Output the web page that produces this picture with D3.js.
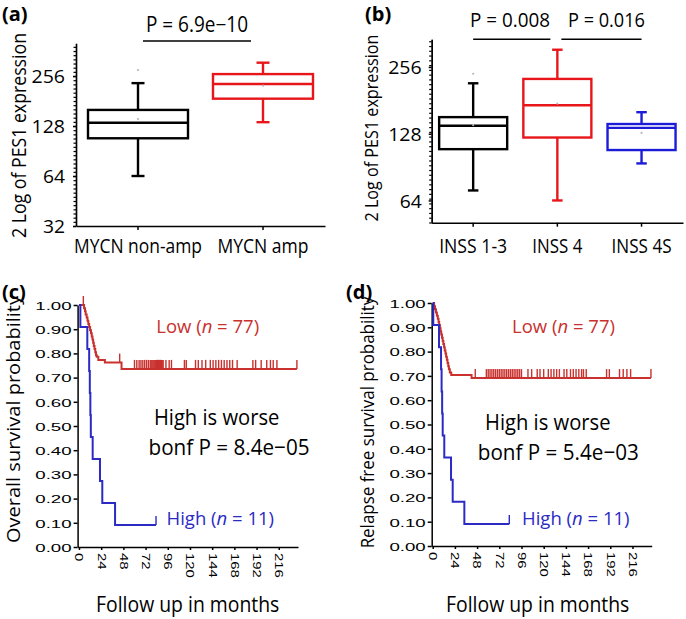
<!DOCTYPE html>
<html><head><meta charset="utf-8">
<script src="https://cdn.jsdelivr.net/npm/d3@7"></script>
<style>body{margin:0;background:#fff}svg{display:block}</style>
</head><body>
<svg id="fig" width="686" height="619"></svg>
<script>
// ---------------- data ----------------
// (a) PES1 expression by MYCN status
const aCats = ["MYCN non-amp", "MYCN amp"];
const aWhiskLo = [64, 135];
const aQ1 = [108, 187];
const aMedian = [134, 229];
const aQ3 = [160, 263];
const aWhiskHi = [232, 308];
const aMean = [141, 224];
const aOutlier = [278, null];
const aTicks = [32, 64, 128, 256];
const aP = "P = 6.9e\u221210";

// (b) PES1 expression by INSS stage
const bCats = ["INSS 1-3", "INSS 4", "INSS 4S"];
const bWhiskLo = [71, 64, 94];
const bQ1 = [109, 123, 108];
const bMedian = [139, 172, 136];
const bQ3 = [152, 226, 141.5];
const bWhiskHi = [216, 306, 160];
const bMean = [140, 175, 129];
const bOutlier = [238.5, null, null];
const bTicks = [64, 128, 256];
const bP = ["P = 0.008", "P = 0.016"];

// (c)/(d) Kaplan-Meier axes
const kmYTicks = [0, 0.1, 0.2, 0.3, 0.4, 0.5, 0.6, 0.7, 0.8, 0.9, 1.0];
const kmXTicks = [0, 24, 48, 72, 96, 120, 144, 168, 192, 216];

// (c) overall survival
const cLowTime = [0, 5.5, 6.5, 7.2, 8.3, 9.2, 10.1, 11, 12, 13, 13.8, 14.6, 15.3, 16, 16.8, 17.6, 18.4, 19.2, 20.9, 28, 46, 235.6];
const cLowSurv = [1, 0.987, 0.974, 0.961, 0.948, 0.935, 0.922, 0.909, 0.896, 0.883, 0.870, 0.857, 0.844, 0.831, 0.818, 0.805, 0.792, 0.786, 0.773, 0.762, 0.736, 0.736];
const cLowCensor = [4.7, 44, 60, 62.5, 65, 67, 69, 71, 73, 75, 77, 78, 79, 80, 81, 82, 83, 84, 85, 86, 87, 88, 89, 90, 91, 94, 97.5, 100, 114, 116, 126, 129, 133, 137, 142, 145, 148, 151, 154, 157, 160, 163, 166, 171, 188, 191, 197, 203, 207, 210, 214, 235.6];
const cHighTime = [0, 1.5, 9, 11, 11.7, 12.3, 12.8, 14.8, 22.7, 25.2, 39, 83.3];
const cHighSurv = [1, 0.909, 0.818, 0.727, 0.636, 0.545, 0.455, 0.364, 0.273, 0.182, 0.091, 0.091];
const cHighCensor = [83.3];

// (d) relapse free survival
const dLowTime = [0, 1.5, 2.5, 3.5, 4.5, 5.5, 6.3, 7, 7.8, 8.5, 9.2, 10, 10.8, 11.5, 12.3, 13, 13.8, 14.5, 15.3, 16, 16.8, 17.5, 18.5, 20, 42, 236];
const dLowSurv = [1, 0.987, 0.974, 0.961, 0.948, 0.935, 0.922, 0.909, 0.896, 0.883, 0.870, 0.857, 0.844, 0.831, 0.818, 0.805, 0.792, 0.779, 0.766, 0.753, 0.740, 0.727, 0.714, 0.704, 0.691, 0.691];
const dLowCensor = [46, 58, 60, 62, 64, 66, 68, 70, 72, 74, 76, 78, 80, 82, 84, 86, 88, 90, 92, 94, 96, 103, 107, 113, 116, 120, 125, 128, 131, 134, 137, 142, 145, 149, 152, 155, 158, 161, 163, 166, 188, 191, 202, 206, 210, 214, 236];
const dHighTime = [0, 0.6, 6.8, 9, 9.6, 10.2, 10.8, 12.5, 19.8, 21.6, 34.2, 82.8];
const dHighSurv = [1, 0.909, 0.818, 0.727, 0.636, 0.545, 0.455, 0.364, 0.273, 0.182, 0.091, 0.091];
const dHighCensor = [82.8];

// ---------------- styles ----------------
const BOX_BLACK = "#000000", BOX_RED = "#e8161b", BOX_BLUE = "#1c1cd8";
const KM_RED = "#c8312e", KM_BLUE = "#2b2bc4";
const FONT = "'Open Sans', 'Noto Sans', sans-serif";
const TICKFONT = "'Liberation Sans', Arial, sans-serif";

const svg = d3.select("#fig");

function txt(g, x, y, parts, o) {
  const t = g.append("text").attr("x", x).attr("y", y)
    .attr("font-family", o.family || FONT).attr("font-size", o.size)
    .attr("text-anchor", o.anchor || "middle").attr("fill", o.color || "#000");
  if (o.weight) t.attr("font-weight", o.weight);
  if (o.rotate) t.attr("transform", `rotate(${o.rotate},${x},${y})`);
  if (typeof parts === "string") t.text(parts);
  else parts.forEach(p => { const s = t.append("tspan").text(p[0]); if (p[1]) s.attr("font-style", "italic"); });
  if (o.width) t.attr("textLength", o.width).attr("lengthAdjust", "spacingAndGlyphs");
  return t;
}

function styleAxis(g, sw) {
  g.select(".domain").attr("stroke", "#000").attr("stroke-width", sw);
  g.selectAll(".tick line").attr("stroke", "#000").attr("stroke-width", sw);
}

function boxplot(g, x, y, cats, lo, q1, med, q3, hi, mean, out, colors, capW) {
  cats.forEach((c, i) => {
    const x0 = x(c), bw = x.bandwidth(), cx = x0 + bw / 2, col = colors[i];
    const L = (x1, y1, x2, y2) => g.append("line").attr("x1", x1).attr("y1", y1).attr("x2", x2).attr("y2", y2)
      .attr("stroke", col).attr("stroke-width", 2.4);
    L(cx, y(hi[i]), cx, y(q3[i]));
    L(cx, y(q1[i]), cx, y(lo[i]));
    L(cx - capW / 2, y(hi[i]), cx + capW / 2, y(hi[i]));
    L(cx - capW / 2, y(lo[i]), cx + capW / 2, y(lo[i]));
    g.append("rect").attr("x", x0).attr("y", y(q3[i])).attr("width", bw).attr("height", y(q1[i]) - y(q3[i]))
      .attr("fill", "none").attr("stroke", col).attr("stroke-width", 2.4);
    L(x0, y(med[i]), x0 + bw, y(med[i]));
    g.append("circle").attr("cx", cx).attr("cy", y(mean[i])).attr("r", 1.1).attr("fill", "#b8b8c8");
    if (out[i] != null) g.append("circle").attr("cx", cx).attr("cy", y(out[i])).attr("r", 1.1).attr("fill", "#b8b8b8");
  });
}

function km(g, x, y, times, surv, censor, color) {
  const pts = times.map((t, i) => [t, surv[i]]);
  g.append("path").datum(pts)
    .attr("d", d3.line().x(d => x(d[0])).y(d => y(d[1])).curve(d3.curveStepAfter))
    .attr("fill", "none").attr("stroke", color).attr("stroke-width", 2);
  censor.forEach(t => {
    const i = Math.max(0, d3.bisectRight(times, t) - 1);
    const s = surv[i];
    g.append("line").attr("x1", x(t)).attr("x2", x(t)).attr("y1", y(s)).attr("y2", y(s) - 9)
      .attr("stroke", color).attr("stroke-width", 1.4);
  });
}

// ---------------- panel (a) ----------------
{
  const g = svg.append("g");
  const y = d3.scaleLog().base(2).domain([32, 403]).range([226, 43.3]);
  const x = d3.scaleBand().domain(aCats).range([76, 325]).paddingInner(0.2).paddingOuter(0.096);
  const minor = d3.range(0, 3.64, 1 / 12).map(k => 32 * Math.pow(2, k));
  const gm = g.append("g").attr("transform", "translate(76,0)")
    .call(d3.axisLeft(y).tickValues(minor).tickFormat("").tickSize(2.5).tickSizeOuter(0));
  styleAxis(gm, 1.2);
  const gy = g.append("g").attr("transform", "translate(76,0)")
    .call(d3.axisLeft(y).tickValues(aTicks).tickFormat(d3.format("d")).tickSize(3).tickSizeOuter(0).tickPadding(8));
  styleAxis(gy, 1.5);
  gy.selectAll("text").attr("font-family", FONT).attr("font-size", 19).attr("fill", "#000").attr("dy", "0.36em")
    .attr("textLength", d => d >= 100 ? 33.5 : 22).attr("lengthAdjust", "spacingAndGlyphs");
  const gx = g.append("g").attr("transform", "translate(0,226)")
    .call(d3.axisBottom(x).tickSize(4).tickSizeOuter(0));
  styleAxis(gx, 1.5);
  const aLabW = [128, 91];
  gx.selectAll("text").attr("font-family", FONT).attr("font-size", 20).attr("fill", "#000")
    .attr("dy", null).attr("y", 27).attr("textLength", (d, i) => aLabW[i]).attr("lengthAdjust", "spacingAndGlyphs");
  boxplot(g, x, y, aCats, aWhiskLo, aQ1, aMedian, aQ3, aWhiskHi, aMean, aOutlier, [BOX_BLACK, BOX_RED], 13);
  const c0 = x(aCats[0]) + x.bandwidth() / 2, c1 = x(aCats[1]) + x.bandwidth() / 2;
  g.append("line").attr("x1", c0 + 5).attr("x2", c1 - 12).attr("y1", 41).attr("y2", 41).attr("stroke", "#000").attr("stroke-width", 1.5);
  txt(g, 197, 31.5, aP, { size: 21, width: 102 });
  txt(g, 26, 135.5, "2 Log of PES1 expression", { size: 20, rotate: -90, width: 205 });
  txt(g, 2, 21, "(a)", { size: 20, weight: "bold", anchor: "start" });
}

// ---------------- panel (b) ----------------
{
  const g = svg.append("g");
  const y = d3.scaleLog().base(2).domain([50.8, 341]).range([222.7, 39.3]);
  const x = d3.scaleBand().domain(bCats).range([431.7, 683]).paddingInner(0.192).paddingOuter(0.0885);
  const minor = d3.range(-0.33, 2.41, 1 / 14).map(k => 64 * Math.pow(2, k));
  const gm = g.append("g").attr("transform", "translate(431.7,0)")
    .call(d3.axisLeft(y).tickValues(minor).tickFormat("").tickSize(2.5).tickSizeOuter(0));
  styleAxis(gm, 1.2);
  const gy = g.append("g").attr("transform", "translate(431.7,0)")
    .call(d3.axisLeft(y).tickValues(bTicks).tickFormat(d3.format("d")).tickSize(3).tickSizeOuter(0).tickPadding(7));
  styleAxis(gy, 1.5);
  gy.selectAll("text").attr("font-family", FONT).attr("font-size", 19).attr("fill", "#000").attr("dy", "0.36em")
    .attr("textLength", d => d >= 100 ? 33.5 : 22).attr("lengthAdjust", "spacingAndGlyphs");
  const gx = g.append("g").attr("transform", "translate(0,222.7)")
    .call(d3.axisBottom(x).tickSize(4).tickSizeOuter(0));
  styleAxis(gx, 1.5);
  const bLabW = [68, 50, 60];
  gx.selectAll("text").attr("font-family", FONT).attr("font-size", 20).attr("fill", "#000")
    .attr("dy", null).attr("y", 30.5).attr("textLength", (d, i) => bLabW[i]).attr("lengthAdjust", "spacingAndGlyphs");
  boxplot(g, x, y, bCats, bWhiskLo, bQ1, bMedian, bQ3, bWhiskHi, bMean, bOutlier, [BOX_BLACK, BOX_RED, BOX_BLUE], 10.5);
  const cx = bCats.map(c => x(c) + x.bandwidth() / 2);
  g.append("line").attr("x1", cx[0]).attr("x2", cx[1] - 7).attr("y1", 39.3).attr("y2", 39.3).attr("stroke", "#000").attr("stroke-width", 1.4);
  g.append("line").attr("x1", cx[1] + 4).attr("x2", cx[2]).attr("y1", 39.3).attr("y2", 39.3).attr("stroke", "#000").attr("stroke-width", 1.4);
  txt(g, 510, 26.7, bP[0], { size: 20, width: 80 });
  txt(g, 606.5, 26.7, bP[1], { size: 20, width: 77 });
  txt(g, 378, 128, "2 Log of PES1 expression", { size: 18, rotate: -90, width: 187 });
  txt(g, 365, 21, "(b)", { size: 20, weight: "bold", anchor: "start" });
}

// ---------------- KM panels ----------------
function kmPanel(o) {
  const g = svg.append("g");
  const x = d3.scaleLinear().domain(o.xdom).range(o.xr);
  const y = d3.scaleLinear().domain([0, 1]).range(o.yr);
  const gy = g.append("g").attr("transform", `translate(${o.xr[0]},0)`)
    .call(d3.axisLeft(y).tickValues(kmYTicks).tickFormat(d3.format(".2f")).tickSize(4).tickSizeOuter(0));
  styleAxis(gy, 1.5);
  gy.selectAll("text").attr("font-family", TICKFONT).attr("font-size", 11.8).attr("fill", "#000")
    .attr("x", 0).attr("dy", "0.37em").attr("transform", "translate(-6,0) scale(1.58,1)");
  const gx = g.append("g").attr("transform", `translate(0,${o.yr[0]})`)
    .call(d3.axisBottom(x).tickValues(kmXTicks).tickSize(3).tickSizeOuter(0));
  styleAxis(gx, 1.5);
  gx.selectAll("text").attr("font-family", TICKFONT).attr("font-size", 11.5).attr("fill", "#000")
    .attr("y", 0).attr("x", 0).attr("dy", "0.36em").attr("text-anchor", "start")
    .attr("transform", "translate(0,6) rotate(90) scale(1.3,1)");
  km(g, x, y, o.lowT, o.lowS, o.lowC, KM_RED);
  km(g, x, y, o.highT, o.highS, o.highC, KM_BLUE);
  txt(g, o.lowX, 333.3, [["Low (", false], ["n", true], [" = 77)", false]], { size: 18.5, color: KM_RED });
  txt(g, o.hiwX, o.hiwY, "High is worse", { size: 22, width: 125.5 });
  txt(g, o.bonfX, o.hiwY + 30, o.bonf, { size: 22, width: 161 });
  txt(g, o.highX, 525, [["High (", false], ["n", true], [" = 11)", false]], { size: 18.5, color: KM_BLUE });
  txt(g, o.folX, 611.5, "Follow up in months", { size: 22, width: 183.3 });
  txt(g, o.ylabX, o.ylabY, o.ylab, { size: 18.5, rotate: -90, width: o.ylabW });
  txt(g, o.tagX, 299, o.tag, { size: 20, weight: "bold", anchor: "start" });
}

kmPanel({
  xdom: [-1.5, 236.8], xr: [77.6, 298], yr: [547, 305],
  lowT: cLowTime, lowS: cLowSurv, lowC: cLowCensor,
  highT: cHighTime, highS: cHighSurv, highC: cHighCensor,
  lowX: 207.7, hiwX: 216.7, hiwY: 425, bonfX: 229, highX: 220.3, folX: 187.7,
  bonf: "bonf P = 8.4e\u221205",
  ylab: "Overall survival probability", ylabX: 20, ylabY: 419, ylabW: 248,
  tag: "(c)", tagX: 2
});
kmPanel({
  xdom: [-1.1, 236.8], xr: [431.7, 651.7], yr: [546, 303],
  lowT: dLowTime, lowS: dLowSurv, lowC: dLowCensor,
  highT: dHighTime, highS: dHighSurv, highC: dHighCensor,
  lowX: 563.5, hiwX: 547.8, hiwY: 430, bonfX: 558.3, highX: 575.8, folX: 537.7,
  bonf: "bonf P = 5.4e\u221203",
  ylab: "Relapse free survival probability", ylabX: 374, ylabY: 422.5, ylabW: 251.7,
  tag: "(d)", tagX: 346
});
</script>
</body></html>
